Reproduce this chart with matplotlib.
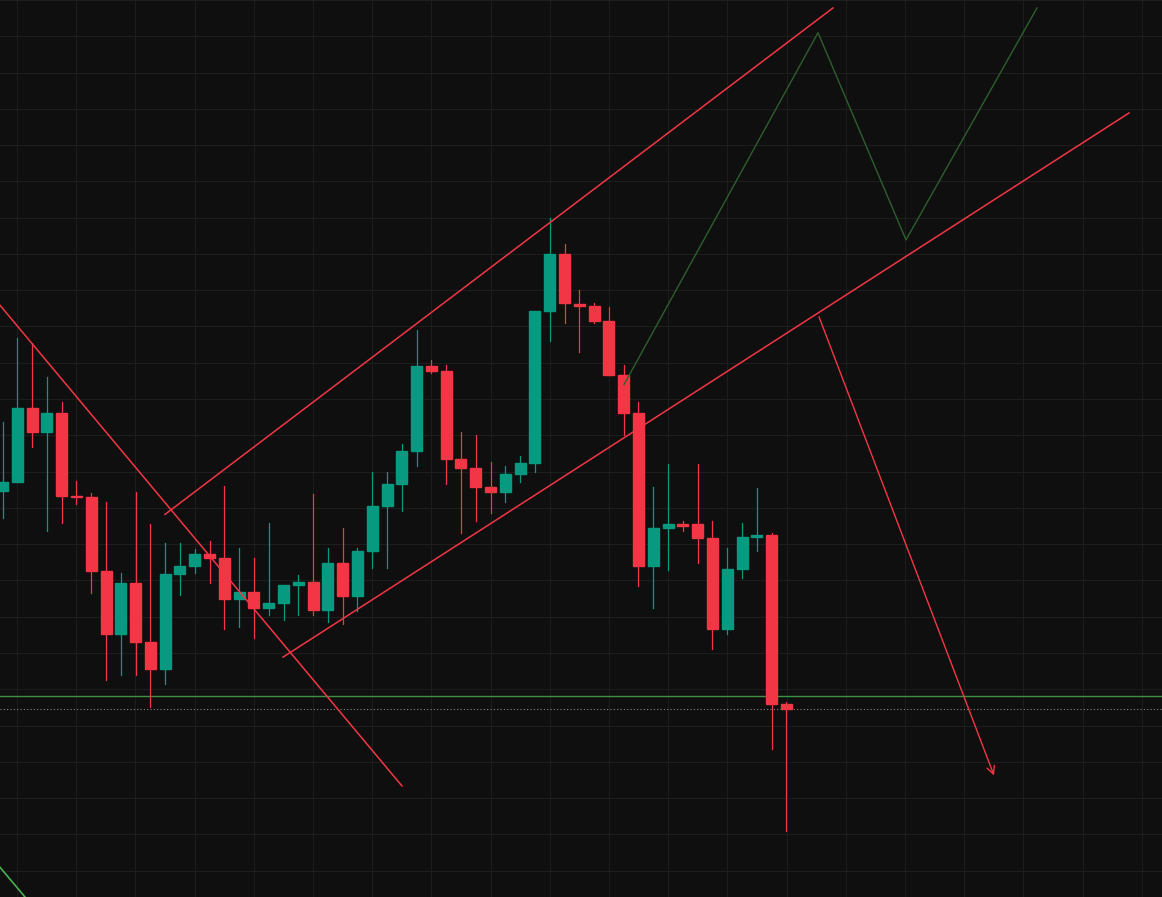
import numpy as np
import matplotlib.pyplot as plt
from matplotlib.patches import FancyArrowPatch

# candle data (screen-y units, smaller = higher price)
opens  = [487, 478, 404, 428, 409, 492, 493, 568, 632, 580, 640, 667, 571, 563, 551, 555, 596, 589, 605, 600,
          582, 579, 607, 560, 593, 548, 503, 480, 447, 361, 366, 455, 464, 483, 488, 470, 459, 306, 248, 299,
          301, 316, 370, 409, 563, 525, 521, 521, 535, 627, 566, 534, 532, 702]
closes = [478, 404, 428, 409, 492, 493, 568, 632, 580, 640, 667, 571, 563, 551, 555, 596, 589, 605, 600, 582,
          579, 607, 560, 593, 548, 503, 480, 447, 361, 366, 455, 464, 483, 488, 470, 459, 306, 248, 298, 301,
          316, 370, 409, 563, 525, 521, 521, 535, 627, 566, 534, 532, 702, 707]
highs  = [418, 333, 338, 372, 398, 477, 489, 498, 570, 488, 521, 540, 540, 546, 538, 482, 545, 555, 520, 590,
          572, 490, 545, 525, 545, 468, 468, 440, 325, 355, 360, 428, 431, 458, 462, 452, 412, 212, 238, 285,
          298, 302, 360, 398, 483, 460, 518, 460, 518, 545, 520, 484, 530, 700]
lows   = [515, 468, 443, 528, 520, 500, 590, 678, 673, 673, 705, 682, 592, 570, 580, 627, 625, 636, 612, 618,
          612, 612, 620, 622, 608, 565, 565, 508, 462, 368, 480, 530, 518, 510, 498, 478, 468, 336, 318, 347,
          318, 370, 431, 583, 605, 567, 528, 560, 647, 632, 575, 548, 748, 830]

x0, step = 2.5, 14.79

# drawn lines (screen coordinates)
red_lines = [((0, 300), (402, 785)), ((165, 511), (833, 0)), ((283, 655), (1129, 106))]
zigzag_x = [624, 818, 906, 1037]
zigzag_y = [380, 25, 234, 0]
arrow_start, arrow_end = (818, 309), (995, 777)
support_y = 694
last_y = 707

fig = plt.figure(figsize=(11.62, 8.97), dpi=100)
ax = fig.add_axes([0, 0, 1, 1])
bg = '#0f0f0f'
fig.patch.set_facecolor(bg)
ax.set_facecolor(bg)
for s in ax.spines.values():
    s.set_visible(False)

up, down = '#089981', '#f23645'
for i, (o, c, h, l) in enumerate(zip(opens, closes, highs, lows)):
    x = x0 + step * i
    col = up if c < o else down
    ax.plot([x, x], [h, l], color=col, lw=0.9, zorder=3)
    top, bot = min(o, c), max(o, c)
    ax.add_patch(plt.Rectangle((x - 5.5, top), 11, max(bot - top, 1.5), color=col, zorder=4))

for (a, b) in red_lines:
    ax.plot([a[0], b[0]], [a[1], b[1]], color=down, lw=1.1, zorder=5)
ax.plot(zigzag_x, zigzag_y, color='#2e5e2e', lw=1, zorder=5)
ax.add_patch(FancyArrowPatch(arrow_start, arrow_end, arrowstyle='->', mutation_scale=14,
                             color=down, lw=1, zorder=5))
ax.axhline(support_y, color='#4caf50', lw=1, alpha=0.8, zorder=2)
ax.axhline(last_y, color='#888888', lw=0.8, ls=(0, (1, 2)), zorder=2)
ax.plot([0, 25], [867, 897], color='#4caf50', lw=1.2)

ax.set_xlim(0, 1162)
ax.set_ylim(897, 8)
ax.set_xticks(np.arange(17, 1162, 59.2))
ax.set_yticks(np.arange(-8, 897, 36.6))
ax.tick_params(length=0, labelbottom=False, labelleft=False)
ax.grid(True, color='#1d1d1d', lw=0.8)

fig.savefig('out.png', dpi=100, facecolor=bg)
